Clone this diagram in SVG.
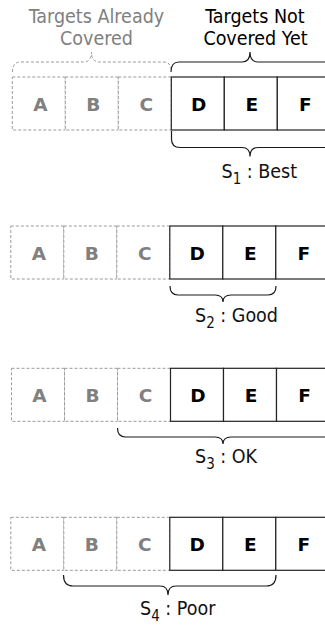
<svg xmlns="http://www.w3.org/2000/svg" width="325" height="625" viewBox="0 0 325 625">
  <style>
    text { font-family: "DejaVu Sans", Verdana, sans-serif; }
    .head { font-size: 19.5px; font-stretch: condensed; text-anchor: middle; }
    .head.done { fill: #808080; }
    .head.todo { fill: #000; }
    .cell-done rect { fill: #fff; stroke: #9a9a9a; stroke-width: 1; stroke-dasharray: 3 2; }
    .cell-todo rect { fill: #fff; stroke: #222; stroke-width: 1.2; }
    .cell-done text { fill: #808080; }
    .cell-todo text { fill: #000; }
    .letter { font-size: 18.5px; font-weight: bold; text-anchor: middle; }
    .brace { fill: none; stroke: #1a1a1a; stroke-width: 1.2; }
    .brace.done { stroke: #9a9a9a; stroke-width: 1; stroke-dasharray: 3 2; }
    .score { font-size: 19.5px; font-stretch: condensed; fill: #111; }
    .sub { font-size: 15px; }
  </style>

  <defs>
    <!-- one row of six target cells, origin at the top-left corner of A -->
    <g id="cells">
      <g class="cell-done"><rect x="0" y="0" width="53" height="53"/><text class="letter" x="28" y="34">A</text></g>
      <g class="cell-done"><rect x="53" y="0" width="53" height="53"/><text class="letter" x="81" y="34">B</text></g>
      <g class="cell-done"><rect x="106" y="0" width="53" height="53"/><text class="letter" x="134" y="34">C</text></g>
      <g class="cell-todo"><rect x="159" y="0" width="53" height="53"/><text class="letter" x="186.5" y="34">D</text></g>
      <g class="cell-todo"><rect x="212" y="0" width="53" height="53"/><text class="letter" x="239.5" y="34">E</text></g>
      <g class="cell-todo"><rect x="265" y="0" width="53" height="53"/><text class="letter" x="293" y="34">F</text></g>
    </g>
  </defs>

  <!-- column headings -->
  <g id="head-covered">
    <text class="head done" x="96.5" y="23">Targets Already</text>
    <text class="head done" x="96.5" y="45">Covered</text>
  </g>
  <g id="head-uncovered">
    <text class="head todo" x="255" y="23">Targets Not</text>
    <text class="head todo" x="255.5" y="45">Covered Yet</text>
  </g>

  <!-- rows of targets -->
  <g id="row-s1"><use href="#cells" transform="translate(12.3,77)"/></g>
  <g id="row-s2"><use href="#cells" transform="translate(10.8,226)"/></g>
  <g id="row-s3"><use href="#cells" transform="translate(11.5,368.3)"/></g>
  <g id="row-s4"><use href="#cells" transform="translate(10.8,517.3)"/></g>

  <!-- braces -->
  <g id="braces">
    <path class="brace done" d="M12.5,72 Q12.5,62 20.5,62 L83.5,62 Q91.5,62 91.5,52 Q91.5,62 99.5,62 L163,62 Q171,62 171,70"/>
    <path class="brace" d="M171,72 Q171,62 179,62 L242,62 Q250,62 250,52 Q250,62 258,62 L330,62"/>
    <path class="brace" d="M171.5,131 L171.5,139 Q171.5,147.5 180,147.5 L242,147.5 Q250,147.5 250,156.5 Q250,147.5 258,147.5 L330,147.5"/>
    <path class="brace" d="M170,286 Q170,295 178,295 L215,295 Q223,295 223,302 Q223,295 231,295 L268,295 Q276,295 276,286"/>
    <path class="brace" d="M117.5,428 Q117.5,437 125.5,437 L215,437 Q223,437 223,444 Q223,437 231,437 L330,437"/>
    <path class="brace" d="M63.5,575 Q63.5,586 73,586 L160,586 Q168,586 168,595 Q168,586 176,586 L266.5,586 Q276,586 276,575"/>
  </g>

  <!-- scores -->
  <g id="label-s1"><text class="score" x="221.5" y="178">S<tspan class="sub" dy="5.5">1</tspan><tspan dy="-5.5"> : Best</tspan></text></g>
  <g id="label-s2"><text class="score" x="195" y="322">S<tspan class="sub" dy="5.5">2</tspan><tspan dy="-5.5"> : Good</tspan></text></g>
  <g id="label-s3"><text class="score" x="195" y="463">S<tspan class="sub" dy="5.5">3</tspan><tspan dy="-5.5"> : OK</tspan></text></g>
  <g id="label-s4"><text class="score" x="140" y="615">S<tspan class="sub" dy="5.5">4</tspan><tspan dy="-5.5"> : Poor</tspan></text></g>
</svg>
